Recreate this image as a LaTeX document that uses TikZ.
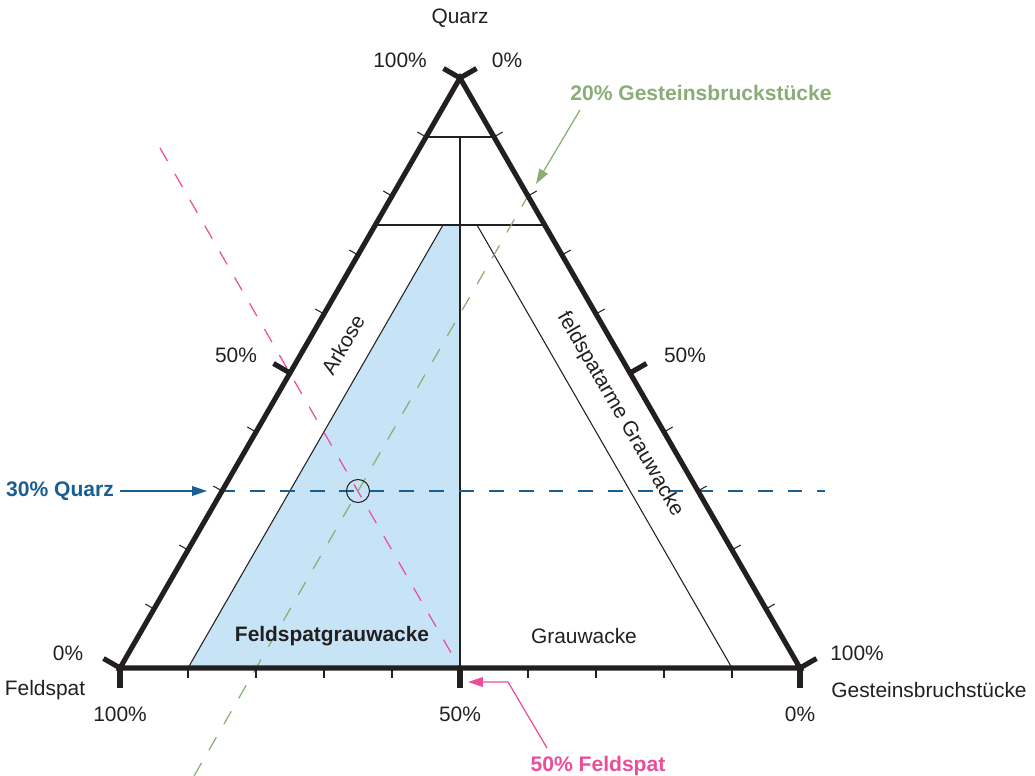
\documentclass[tikz,border=0pt]{standalone}
\usepackage{fontspec}
\setmainfont{Liberation Sans}
\usetikzlibrary{arrows.meta,calc}

\definecolor{rand}{HTML}{231F20}
\definecolor{feldblau}{HTML}{C6E4F6}
\definecolor{quarzblau}{HTML}{1A5F94}
\definecolor{feldpink}{HTML}{EA4E9B}
\definecolor{gesteingruen}{HTML}{8AAD77}

\begin{document}
\begin{tikzpicture}[
    x=0.02cm, y=-0.02cm,
    every node/.style={font=\fontsize{11.9}{14}\selectfont, text=rand},
    edge/.style={draw=rand, line width=2.9pt, line join=miter},
    fieldline/.style={draw=rand, line width=0.6pt},
    smalltick/.style={draw=rand, line width=0.6pt},
    bigtick/.style={draw=rand, line width=2.9pt},
    guide/.style={line width=0.7pt, dash pattern=on 8.5pt off 8.5pt},
    hint/.style={font=\fontsize{12}{14}\selectfont\bfseries},
    arr/.style={-{Triangle[length=8.5pt, width=5.5pt]}, line width=0.7pt},
]
    \useasboundingbox (0,0) rectangle (1035,776);

    % corners
    \coordinate (F) at (120,668);
    \coordinate (G) at (800,668);
    \coordinate (Q) at (460,78);

    % fields
    \fill[feldblau] (188,668) -- (443,225) -- (460,225) -- (460,668) -- cycle;
    \draw[fieldline] (426,137) -- (494,137);
    \draw[fieldline] (375,225) -- (545,225);
    \draw[fieldline] (460,137) -- (460,668);
    \draw[fieldline] (188,668) -- (443,225);
    \draw[fieldline] (477,225) -- (732,668);

    % reading lines
    \draw[guide, quarzblau] (220,491) -- (825,491);
    \draw[guide, feldpink] (160,148) -- (461,670);
    \draw[guide, gesteingruen] (194,776) -- (529,194);

    % triangle and ticks
    \draw[edge] (F) -- (G) -- (Q) -- cycle;
    \foreach \k in {1,2,3,4,6,7,8,9} {
        \draw[smalltick] ($(F)!\k/10!(G)$) -- ++(0,10);
        \draw[smalltick] ($(F)!\k/10!(Q)$) -- ++(-8.7,-5);
        \draw[smalltick] ($(G)!\k/10!(Q)$) -- ++(8.7,-5);
    }
    \foreach \k in {0,5,10} {
        \draw[bigtick] ($(F)!\k/10!(G)$) -- ++(0,20);
        \draw[bigtick] ($(F)!\k/10!(Q)$) -- ++(-16.5,-9.5);
        \draw[bigtick] ($(G)!\k/10!(Q)$) -- ++(16.5,-9.5);
    }

    \node[draw=rand, circle, line width=0.6pt, minimum size=0.46cm, inner sep=0pt] (schnitt) at (358,491) {};

    % axis labels
    \node (quarz) at (460,18) {Quarz};
    \node (q100) at (400,60) {100\%};
    \node (q0) at (507,60) {0\%};
    \node (l50) at (236,355) {50\%};
    \node (r50) at (685,355) {50\%};
    \node (f0) at (68,653) {0\%};
    \node (feldspat) at (45,690) {Feldspat};
    \node (f100) at (120,714) {100\%};
    \node (b50) at (460,714) {50\%};
    \node (b0) at (800,714) {0\%};
    \node (g100) at (857,653) {100\%};
    \node (gestein) at (929,690) {Gesteinsbruchstücke};

    % field names
    \node[rotate=60] (arkose) at (343,345) {Arkose};
    \node[rotate=-60] (fgrau) at (620,414) {feldspatarme Grauwacke};
    \node[font=\fontsize{11.9}{14}\selectfont\bfseries] (fsgrau) at (332,636) {Feldspatgrauwacke};
    \node (grau) at (584,636) {Grauwacke};

    % hints
    \node[hint, text=quarzblau] (lblQ) at (60,491) {30\% Quarz};
    \node[hint, text=feldpink] (lblF) at (598,766) {50\% Feldspat};
    \node[hint, text=gesteingruen] (lblG) at (701,93) {20\% Gesteinsbruckstücke};

    \coordinate (qtip) at (207,491);
    \coordinate (fstart) at (547,748);
    \coordinate (fbend) at (508,682);
    \coordinate (ftip) at (468,682);
    \coordinate (gstart) at (580,110);
    \coordinate (gtip) at (536,184);

    \draw[arr, quarzblau] (lblQ.east) -- (qtip);
    \draw[arr, feldpink] (fstart) -- (fbend) -- (ftip);
    \draw[arr, gesteingruen] (gstart) -- (gtip);
\end{tikzpicture}
\end{document}
